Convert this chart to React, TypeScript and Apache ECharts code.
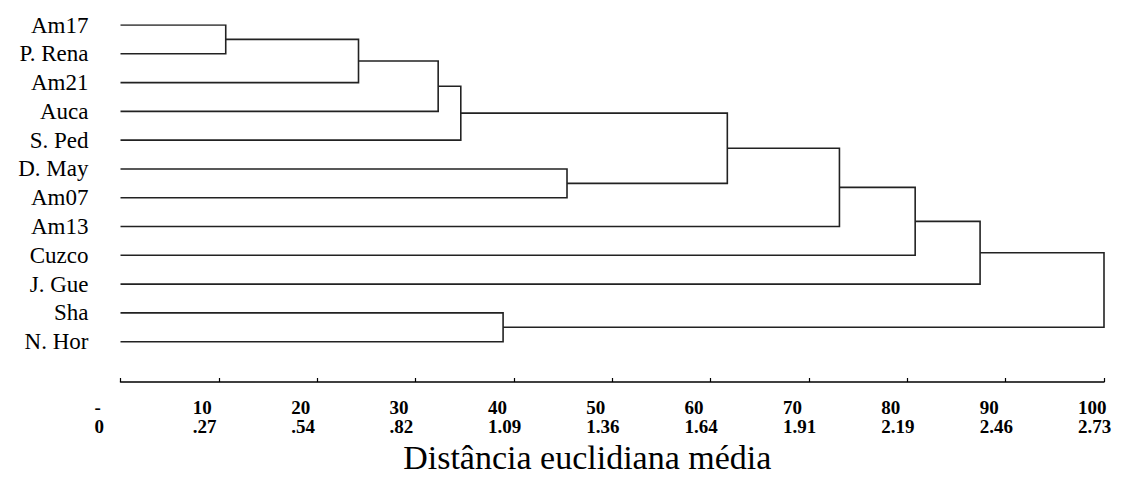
import React, { useEffect, useRef } from "react";
import * as echarts from "echarts";

// Leaves of the dendrogram, top to bottom
const leaves: string[] = [
  "Am17", "P. Rena", "Am21", "Auca", "S. Ped", "D. May",
  "Am07", "Am13", "Cuzco", "J. Gue", "Sha", "N. Hor",
];

// Merges: [childA, childB, height]; ids < 12 are leaves, id 12 + k is merge k
const mergeA: number[] = [0, 12, 13, 14, 5, 10, 15, 18, 19, 20, 21];
const mergeB: number[] = [1, 2, 3, 4, 6, 11, 16, 7, 8, 9, 17];
const mergeHeight: number[] = [10.7, 24.2, 32.3, 34.6, 45.4, 38.9, 61.7, 73.1, 80.8, 87.4, 100];

// Tick labels (rescaled distance on top, raw distance below)
const tickTop: string[] = ["-", "10", "20", "30", "40", "50", "60", "70", "80", "90", "100"];
const tickBottom: string[] = ["0", ".27", ".54", ".82", "1.09", "1.36", "1.64", "1.91", "2.19", "2.46", "2.73"];

const axisTitle = "Distância euclidiana média";

function buildSegments() {
  const n = leaves.length;
  const pos: number[] = leaves.map((_, i) => i);
  const hgt: number[] = leaves.map(() => 0);
  const data: { coords: number[][] }[] = [];
  for (let k = 0; k < mergeA.length; k++) {
    const a = mergeA[k];
    const b = mergeB[k];
    const h = mergeHeight[k];
    data.push({
      coords: [
        [hgt[a], pos[a]],
        [h, pos[a]],
        [h, pos[b]],
        [hgt[b], pos[b]],
      ],
    });
    pos[n + k] = (pos[a] + pos[b]) / 2;
    hgt[n + k] = h;
  }
  return data;
}

export default function App() {
  const ref = useRef<HTMLDivElement>(null);
  useEffect(() => {
    document.body.style.margin = "0";
    if (!ref.current) return;
    const chart = echarts.init(ref.current, null, { renderer: "svg" });
    const serif = "'Liberation Serif', 'Times New Roman', serif";
    chart.setOption({
      animation: false,
      backgroundColor: "#ffffff",
      grid: { left: 120.5, right: 20, top: 25, bottom: 111, containLabel: false },
      xAxis: {
        type: "value",
        position: "bottom",
        min: 0,
        max: 100,
        interval: 10,
        name: axisTitle,
        nameLocation: "middle",
        nameGap: 58,
        nameTextStyle: {
          fontFamily: serif,
          fontSize: 34,
          color: "#000",
          padding: [0, 50, 0, 0],
        },
        axisLine: { show: true, onZero: false, lineStyle: { color: "#000", width: 1.5 } },
        axisTick: { show: true, inside: true, length: 4, lineStyle: { color: "#000", width: 1.2 } },
        splitLine: { show: false },
        axisLabel: {
          show: true,
          margin: 16,
          align: "left",
          padding: [0, 0, 0, -26],
          fontFamily: serif,
          fontWeight: "bold",
          fontSize: 19,
          lineHeight: 19,
          color: "#000",
          showMinLabel: true,
          showMaxLabel: true,
          hideOverlap: false,
          formatter: (v: number) => {
            const i = Math.round(v / 10);
            return tickTop[i] + "\n" + tickBottom[i];
          },
        },
      },
      yAxis: {
        type: "value",
        inverse: true,
        min: 0,
        max: 12.4,
        interval: 1,
        axisLine: { show: false },
        axisTick: { show: false },
        splitLine: { show: false },
        axisLabel: {
          show: true,
          margin: 32,
          fontFamily: serif,
          fontSize: 23,
          color: "#000",
          showMaxLabel: false,
          formatter: (v: number) => {
            const i = Math.round(v);
            return Math.abs(v - i) < 1e-6 && i < leaves.length ? leaves[i] : "";
          },
        },
      },
      series: [
        {
          type: "lines",
          coordinateSystem: "cartesian2d",
          polyline: true,
          silent: true,
          lineStyle: { color: "#222", width: 1.6, opacity: 1 },
          data: buildSegments(),
        },
      ],
    });
    return () => chart.dispose();
  }, []);
  return <div ref={ref} style={{ width: 1124, height: 493 }} />;
}
